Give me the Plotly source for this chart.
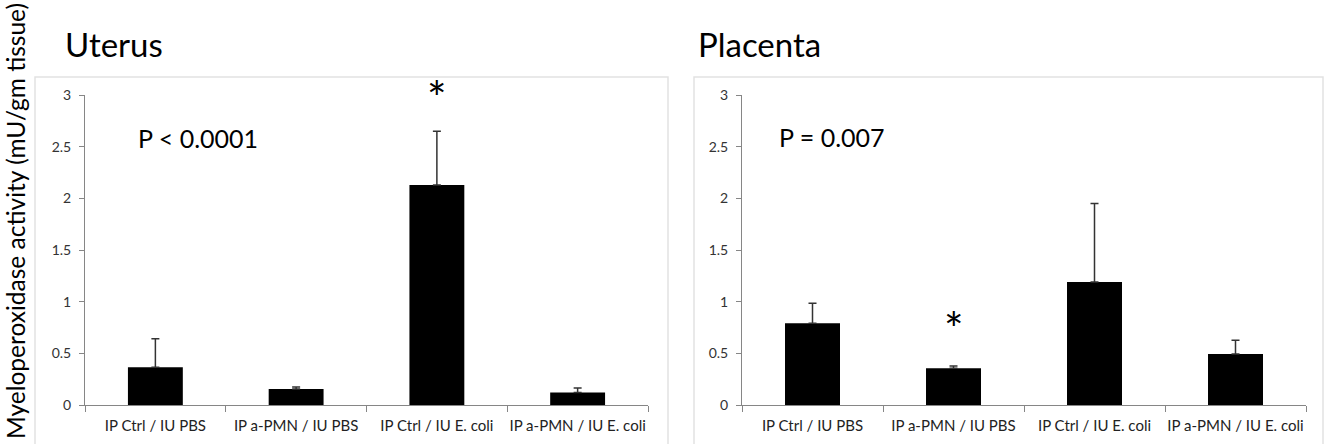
import plotly.graph_objects as go

W, H = 1330, 444

categories = ["IP Ctrl / IU PBS", "IP a-PMN / IU PBS", "IP Ctrl / IU E. coli", "IP a-PMN / IU E. coli"]
uterus_values = [0.365, 0.155, 2.13, 0.12]
uterus_err = [0.275, 0.02, 0.52, 0.045]
placenta_values = [0.79, 0.355, 1.19, 0.494]
placenta_err = [0.195, 0.022, 0.76, 0.132]
y_ticks = [0, 0.5, 1, 1.5, 2, 2.5, 3]

FONT = "Lato"
AX = "#868686"

def px(x):
    return x / W

def py(y):
    return 1 - y / H

fig = go.Figure()

for vals, errs, xa, ya in [(uterus_values, uterus_err, "x", "y"),
                           (placenta_values, placenta_err, "x2", "y2")]:
    fig.add_trace(go.Bar(
        x=categories, y=vals, xaxis=xa, yaxis=ya,
        marker=dict(color="black", line=dict(width=0)),
        error_y=dict(type="data", symmetric=False, array=errs,
                     arrayminus=[0] * len(errs), color="#333333",
                     thickness=1.5, width=4),
        showlegend=False,
    ))

xcommon = dict(showline=True, linecolor=AX, linewidth=1, ticks="outside",
               tickson="boundaries", ticklen=6, tickcolor=AX, showgrid=False,
               range=[-0.5, 3.5], tickangle=0, automargin=False,
               ticklabelstandoff=7,
               tickfont=dict(family=FONT, size=15, color="#222"))
ycommon = dict(showline=True, linecolor=AX, linewidth=1, ticks="outside",
               ticklen=5, tickcolor=AX, showgrid=False, zeroline=False,
               range=[0, 3], tickvals=y_ticks, automargin=False,
               ticklabelstandoff=5,
               tickfont=dict(family=FONT, size=14, color="#333"))

ydom = [py(405), py(95)]
fig.update_layout(
    width=W, height=H,
    margin=dict(l=0, r=0, t=0, b=0, pad=0),
    paper_bgcolor="white", plot_bgcolor="white",
    bargap=0.61,
    xaxis=dict(domain=[px(85), px(648)], anchor="y", **xcommon),
    yaxis=dict(domain=ydom, anchor="x", **ycommon),
    xaxis2=dict(domain=[px(742), px(1306)], anchor="y2", **xcommon),
    yaxis2=dict(domain=ydom, anchor="x2", **ycommon),
)

# chart-area borders
for x0, x1 in [(35, 668), (694, 1323)]:
    fig.add_shape(type="rect", xref="paper", yref="paper",
                  x0=px(x0), x1=px(x1), y0=py(470), y1=py(77),
                  line=dict(color="#e2e2e2", width=1.5), layer="below")

ann = []
ann.append(dict(text="Uterus", x=px(63), y=py(44), xanchor="left", yanchor="middle",
                font=dict(family=FONT, size=33, color="black")))
ann.append(dict(text="Placenta", x=px(696), y=py(44), xanchor="left", yanchor="middle",
                font=dict(family=FONT, size=33, color="black")))
ann.append(dict(text="P < 0.0001", x=px(136), y=py(138), xanchor="left", yanchor="middle",
                font=dict(family=FONT, size=25, color="black")))
ann.append(dict(text="P = 0.007", x=px(777), y=py(137), xanchor="left", yanchor="middle",
                font=dict(family=FONT, size=25, color="black")))
ann.append(dict(text="Myeloperoxidase activity (mU/gm tissue)", x=px(15), y=py(221),
                xanchor="center", yanchor="middle", textangle=-90,
                font=dict(family=FONT, size=24.5, color="black")))
for a in ann:
    a.update(xref="paper", yref="paper", showarrow=False)
    fig.add_annotation(**a)

# significance asterisks
fig.add_annotation(text="*", x=categories[2], y=2.98, xref="x", yref="y",
                   showarrow=False, yanchor="middle",
                   font=dict(family=FONT, size=46, color="black"))
fig.add_annotation(text="*", x=categories[1], y=0.74, xref="x2", yref="y2",
                   showarrow=False, yanchor="middle",
                   font=dict(family=FONT, size=46, color="black"))

fig.write_html("out.html", config={"displayModeBar": False},
               post_script="document.body.style.margin='0px';")
